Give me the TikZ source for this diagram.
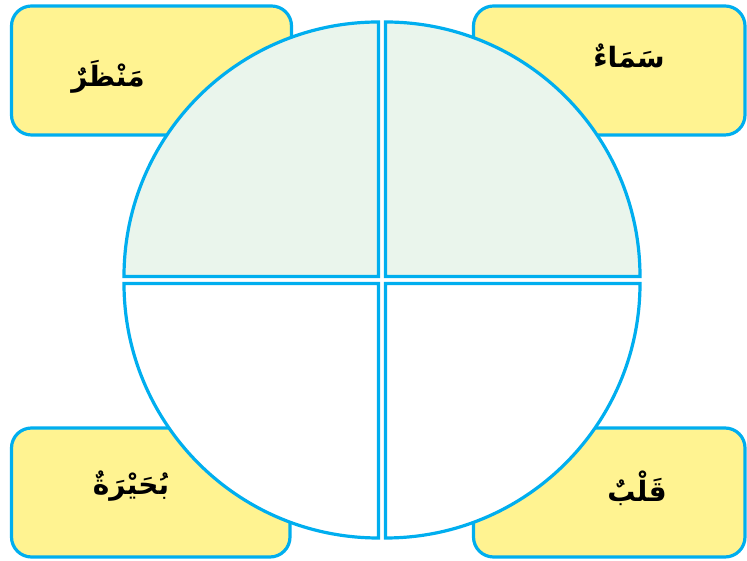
\documentclass[tikz,border=0pt]{standalone}
\usepackage{fontspec}
\TeXXeTstate=1
\newfontfamily\arabicfont[Script=Arabic]{DejaVu Sans}
\definecolor{skyline}{RGB}{0,174,239}
\definecolor{paleyellow}{RGB}{255,243,145}
\definecolor{palegreen}{RGB}{234,245,236}

\begin{document}
\begin{tikzpicture}[x=1pt, y=1pt,
    wordbox/.style={draw=skyline, line width=3.2pt, fill=paleyellow, rounded corners=20pt},
    quarter/.style={draw=skyline, line width=3.2pt},
    word/.style={font=\arabicfont\bfseries\fontsize{28}{32}\selectfont, inner sep=0pt}]
  \useasboundingbox (0,0) rectangle (747,561);
  % corner boxes
  \draw[wordbox] (11.5,426) rectangle (291.5,555);
  \draw[wordbox] (473.5,426) rectangle (745,555);
  \draw[wordbox] (11.5,4) rectangle (290,133);
  \draw[wordbox] (473.5,4) rectangle (745,133);
  % four quarters of the circle
  \draw[quarter, fill=palegreen] (378.5,284.5) -- ++(-254.5,0) arc[start angle=180, end angle=90, radius=254.5pt] -- cycle;
  \draw[quarter, fill=palegreen] (385.5,284.5) -- ++(0,254.5) arc[start angle=90, end angle=0, radius=254.5pt] -- cycle;
  \draw[quarter, fill=white] (378.5,277.5) -- ++(-254.5,0) arc[start angle=180, end angle=270, radius=254.5pt] -- cycle;
  \draw[quarter, fill=white] (385.5,277.5) -- ++(254.5,0) arc[start angle=0, end angle=-90, radius=254.5pt] -- cycle;
  % words
  \node[word] (manzar) at (108,484) {\beginR مَنْظَرٌ\endR};
  \node[word] (samaa) at (629,505) {\beginR سَمَاءٌ\endR};
  \node[word] (buhaira) at (131,75) {\beginR بُحَيْرَةٌ\endR};
  \node[word] (qalb) at (637,73) {\beginR قَلْبٌ\endR};
\end{tikzpicture}
\end{document}
